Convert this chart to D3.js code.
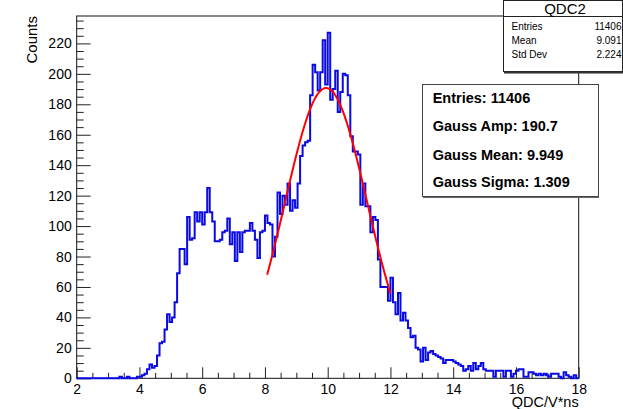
<!DOCTYPE html>
<html>
<head>
<meta charset="utf-8">
<script src="https://cdn.jsdelivr.net/npm/d3@7"></script>
<style>
  html, body { margin: 0; padding: 0; background: #fff; }
  svg { display: block; font-family: "Liberation Sans", Arial, Helvetica, sans-serif; }
</style>
</head>
<body>
<svg id="chart" width="623" height="409"></svg>
<script>
// ---- Data ----
const histName = "QDC2";
const binLow = 2, binHigh = 18, nBins = 200;
const binCounts = [
  0,0,0,0,0,0,0,0,0,0, 0,0,0,0,0,0,0,1,0,0,
  1,0,0,0,1,1,2,3,6,9, 7,8,15,23,24,32,42,37,40,50,
  69,85,85,75,106,91,92,109,103,109, 101,109,125,109,103,90,90,91,96,97,
  105,88,96,77,96,83,96,97,97,102, 97,91,79,96,97,107,102,101,80,93,
  122,108,120,114,128,110,117,112,128,146, 153,155,156,186,206,201,189,201,222,193,
  227,183,190,202,175,188,200,199,186,159, 149,149,147,114,128,113,113,96,106,104,
  78,60,60,60,51,66,50,42,56,38, 43,38,33,27,28,20,19,11,20,12,
  17,18,16,15,14,13,10,12,12,12, 11,10,9,8,5,6,8,5,10,6,
  8,10,6,5,5,5,1,5,5,5, 1,5,5,1,3,5,6,6,1,1,
  4,4,3,2,3,2,3,2,1,3, 3,3,1,0,4,2,1,0,2,0
];
const statLabels = ["Entries", "Mean", "Std Dev"];
const statValues = ["11406", "9.091", "2.224"];
const fitLabels = ["Entries: 11406", "Gauss Amp: 190.7", "Gauss Mean: 9.949", "Gauss Sigma: 1.309"];
const gaussAmp = 190.7, gaussMean = 9.949, gaussSigma = 1.309;
const fitRange = [8.07, 12.0];
const xTickValues = [2, 4, 6, 8, 10, 12, 14, 16, 18];
const yTickValues = [0, 20, 40, 60, 80, 100, 120, 140, 160, 180, 200, 220];
const xTitle = "QDC/V*ns";
const yTitle = "Counts";
const yMax = 238;

// ---- Layout ----
const L = 76.7, R = 578.7, T = 16, B = 378.3;
const svg = d3.select("#chart");
const x = d3.scaleLinear().domain([binLow, binHigh]).range([L, R]);
const y = d3.scaleLinear().domain([0, yMax]).range([B, T]);
const binW = (binHigh - binLow) / nBins;

// Frame
svg.append("rect").attr("x", L).attr("y", T).attr("width", R - L).attr("height", B - T)
  .attr("fill", "none").attr("stroke", "#111").attr("stroke-width", 1);

// X axis: major + minor ticks (inward)
const xMinor = d3.range(binLow, binHigh + 0.001, 0.5).filter(v => !xTickValues.includes(v));
const gxMinor = svg.append("g").attr("transform", `translate(0,${B})`)
  .call(d3.axisBottom(x).tickValues(xMinor).tickSize(-5.5).tickFormat(""));
gxMinor.select(".domain").remove();
const gx = svg.append("g").attr("transform", `translate(0,${B})`)
  .call(d3.axisBottom(x).tickValues(xTickValues).tickSize(-11).tickPadding(6).tickFormat(d3.format("d")));
gx.select(".domain").remove();
gx.selectAll("text").attr("font-size", 14).attr("fill", "#000").attr("font-family", "'Liberation Sans', Arial, sans-serif");

// Y axis
const yMinor = d3.range(0, yMax, 5).filter(v => !yTickValues.includes(v));
const gyMinor = svg.append("g").attr("transform", `translate(${L},0)`)
  .call(d3.axisLeft(y).tickValues(yMinor).tickSize(-7).tickFormat(""));
gyMinor.select(".domain").remove();
const gy = svg.append("g").attr("transform", `translate(${L},0)`)
  .call(d3.axisLeft(y).tickValues(yTickValues).tickSize(-14).tickPadding(5).tickFormat(d3.format("d")));
gy.select(".domain").remove();
gy.selectAll("text").attr("font-size", 14).attr("fill", "#000").attr("font-family", "'Liberation Sans', Arial, sans-serif");
svg.selectAll(".tick line").attr("stroke", "#222");

// Axis titles
svg.append("text").attr("transform", `translate(36.5,${T}) rotate(-90)`)
  .attr("text-anchor", "end").attr("font-size", 15).text(yTitle);
svg.append("text").attr("x", R).attr("y", 407).attr("text-anchor", "end")
  .attr("font-size", 14.5).text(xTitle);

// Histogram step outline
let p = d3.path();
binCounts.forEach((c, i) => {
  const x0 = x(binLow + i * binW), x1 = x(binLow + (i + 1) * binW);
  if (i === 0) p.moveTo(x0, y(c)); else p.lineTo(x0, y(c));
  p.lineTo(x1, y(c));
});
svg.append("path").attr("d", p.toString()).attr("fill", "none")
  .attr("stroke", "#0a0ae6").attr("stroke-width", 2).attr("stroke-linejoin", "miter");

// Gaussian fit
const fitXs = d3.range(0, 101).map(k => fitRange[0] + (fitRange[1] - fitRange[0]) * k / 100);
const gauss = v => gaussAmp * Math.exp(-0.5 * Math.pow((v - gaussMean) / gaussSigma, 2));
svg.append("path").datum(fitXs)
  .attr("d", d3.line().x(v => x(v)).y(v => y(gauss(v))))
  .attr("fill", "none").attr("stroke", "#ff0000").attr("stroke-width", 2);

// Stats box (top right)
const sb = svg.append("g");
sb.append("rect").attr("x", 503.5).attr("y", 0.5).attr("width", 119).attr("height", 71)
  .attr("fill", "#fff").attr("stroke", "#222").attr("stroke-width", 1);
sb.append("line").attr("x1", 504).attr("x2", 623).attr("y1", 72.5).attr("y2", 72.5)
  .attr("stroke", "#333").attr("stroke-width", 2);
sb.append("line").attr("x1", 503.5).attr("x2", 623).attr("y1", 16.5).attr("y2", 16.5)
  .attr("stroke", "#222").attr("stroke-width", 1);
sb.append("text").attr("x", 565).attr("y", 13.5).attr("text-anchor", "middle")
  .attr("font-size", 15).text(histName);
statLabels.forEach((s, i) => {
  sb.append("text").attr("x", 511.5).attr("y", 30 + i * 14.1).attr("font-size", 10).text(s);
  sb.append("text").attr("x", 621.5).attr("y", 30 + i * 14.1).attr("text-anchor", "end")
    .attr("font-size", 10).text(statValues[i]);
});

// Fit result box
const fb = svg.append("g");
fb.append("rect").attr("x", 422.5).attr("y", 84.5).attr("width", 176).attr("height", 112)
  .attr("fill", "#fff").attr("stroke", "#444").attr("stroke-width", 1);
fb.append("line").attr("x1", 423).attr("x2", 599).attr("y1", 197.5).attr("y2", 197.5)
  .attr("stroke", "#666").attr("stroke-width", 1);
const fitY = [103.3, 131, 160, 186.7];
fitLabels.forEach((s, i) => {
  fb.append("text").attr("x", 432.7).attr("y", fitY[i]).attr("font-size", 14.5)
    .attr("font-weight", "bold").text(s);
});
</script>
</body>
</html>
